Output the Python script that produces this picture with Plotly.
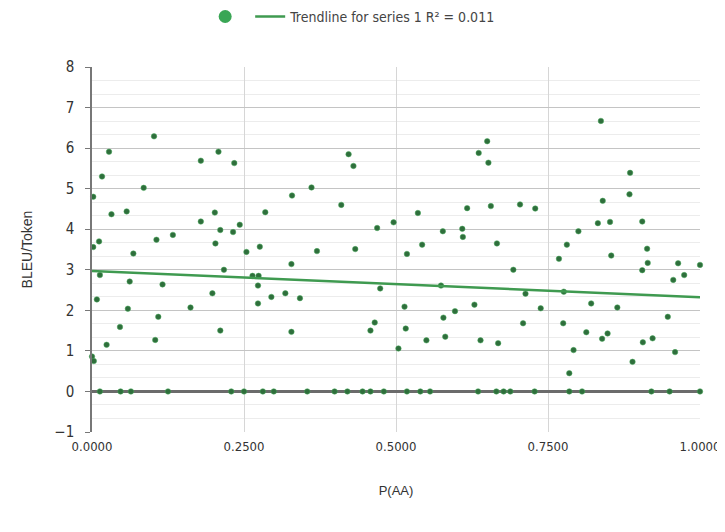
import plotly.graph_objects as go

p_aa = [0.102, 0.028, 0.208, 0.179, 0.234, 0.0165, 0.002, 0.085, 0.032, 0.057,
        0.179, 0.202, 0.211, 0.232, 0.243, 0.002, 0.0116, 0.106, 0.133, 0.203,
        0.068, 0.217, 0.013, 0.062, 0.116, 0.198, 0.008, 0.059, 0.162, 0.109,
        0.046, 0.211, 0.104, 0.024, 0.0, 0.003,
        0.422, 0.430, 0.361, 0.329, 0.410, 0.285, 0.469, 0.254, 0.276, 0.370,
        0.433, 0.328, 0.264, 0.274, 0.273, 0.474, 0.295, 0.318, 0.342, 0.273,
        0.328, 0.458, 0.465,
        0.650, 0.636, 0.652, 0.617, 0.656, 0.704, 0.729, 0.536, 0.496, 0.577,
        0.609, 0.610, 0.543, 0.518, 0.666, 0.693, 0.574, 0.713, 0.514, 0.629,
        0.597, 0.578, 0.738, 0.516, 0.709, 0.581, 0.550, 0.639, 0.668, 0.504,
        0.837, 0.885, 0.884, 0.840, 0.832, 0.852, 0.905, 0.800, 0.781, 0.913,
        0.768, 0.854, 0.914, 0.964, 1.0, 0.905, 0.974, 0.956, 0.776, 0.821,
        0.864, 0.775, 0.947, 0.813, 0.848, 0.839, 0.906, 0.922, 0.792, 0.959,
        0.889, 0.785]
bleu_token = [6.29, 5.91, 5.91, 5.69, 5.63, 5.30, 4.80, 5.02, 4.37, 4.44,
              4.19, 4.41, 3.98, 3.93, 4.11, 3.56, 3.70, 3.74, 3.86, 3.65,
              3.40, 3.00, 2.87, 2.71, 2.64, 2.42, 2.27, 2.04, 2.07, 1.84,
              1.59, 1.50, 1.27, 1.15, 0.86, 0.75,
              5.85, 5.56, 5.03, 4.83, 4.60, 4.42, 4.03, 3.44, 3.57, 3.46,
              3.51, 3.14, 2.85, 2.85, 2.61, 2.54, 2.33, 2.42, 2.30, 2.17,
              1.47, 1.50, 1.70,
              6.17, 5.88, 5.64, 4.52, 4.57, 4.61, 4.51, 4.40, 4.17, 3.95,
              4.01, 3.81, 3.62, 3.39, 3.65, 3.00, 2.61, 2.41, 2.09, 2.14,
              1.98, 1.82, 2.05, 1.55, 1.68, 1.35, 1.26, 1.26, 1.19, 1.06,
              6.67, 5.39, 4.86, 4.70, 4.15, 4.18, 4.19, 3.95, 3.62, 3.52,
              3.27, 3.35, 3.17, 3.16, 3.12, 2.99, 2.87, 2.75, 2.46, 2.17,
              2.07, 1.68, 1.84, 1.46, 1.43, 1.30, 1.21, 1.31, 1.02, 0.97,
              0.73, 0.45]
zero_p_aa = [0.013, 0.047, 0.064, 0.125, 0.229, 0.250, 0.281, 0.299, 0.354,
             0.399, 0.420, 0.445, 0.458, 0.480, 0.518, 0.540, 0.556, 0.635,
             0.665, 0.677, 0.688, 0.728, 0.785, 0.806, 0.920, 0.950, 1.0]
zero_bleu = [0.0] * len(zero_p_aa)

trend_x = [0.0, 1.0]
trend_y = [2.97, 2.32]

x_tickvals = [0, 0.25, 0.5, 0.75, 1.0]
x_ticktext = ["0.0000", "0.2500", "0.5000", "0.7500", "1.0000"]
y_tickvals = [-1, 0, 1, 2, 3, 4, 5, 6, 7, 8]

narrow = "DejaVu Sans Condensed, Liberation Sans Narrow, Liberation Sans, sans-serif"
regular = "Liberation Sans, Arial, sans-serif"
dot_color = "#2f6e3c"

fig = go.Figure()
fig.add_trace(go.Scatter(
    x=p_aa + zero_p_aa, y=bleu_token + zero_bleu, mode="markers",
    marker=dict(color=dot_color, size=5.5, line=dict(width=1, color="rgba(70,170,90,0.5)")),
    showlegend=False, cliponaxis=False))
fig.add_trace(go.Scatter(
    x=[None], y=[None], mode="markers", name="",
    marker=dict(color="#3aa655", size=13), showlegend=True))
fig.add_trace(go.Scatter(
    x=trend_x, y=trend_y, mode="lines", name="Trendline for series 1 R² = 0.011",
    line=dict(color="#3f9a50", width=2.5), showlegend=True))

fig.update_layout(
    width=717, height=524,
    margin=dict(l=84, r=25, t=59, b=100, autoexpand=False),
    paper_bgcolor="white", plot_bgcolor="white",
    font=dict(family=regular, size=13, color="#333333"),
    showlegend=True,
    legend=dict(orientation="h", x=0.275, xanchor="left", xref="container",
                y=0.983, yanchor="middle", yref="container",
                font=dict(family=narrow, size=14, color="#444444"),
                itemwidth=30, tracegroupgap=0),
    xaxis=dict(range=[0, 1], tickvals=x_tickvals, ticktext=x_ticktext,
               showgrid=True, gridcolor="#d6d6d6", gridwidth=1,
               zeroline=False, showline=False, ticks="",
               ticklabelstandoff=5,
               tickfont=dict(family=narrow, size=13, color="#333333"),
               title=dict(text="P(AA)", font=dict(family=regular, size=13, color="#333333"),
                          standoff=32)),
    yaxis=dict(range=[-1, 8], tickvals=y_tickvals,
               showgrid=True, gridcolor="#c4c4c4", gridwidth=1,
               minor=dict(dtick=1/3, showgrid=True, gridcolor="#ececec", gridwidth=1),
               zeroline=True, zerolinecolor="#6b6b6b", zerolinewidth=2.5,
               showline=True, linecolor="#777777", linewidth=1.5,
               ticks="outside", ticklen=5, tickcolor="#777777",
               ticklabelstandoff=8,
               tickfont=dict(family=narrow, size=15, color="#333333"),
               title=dict(text="BLEU/Token", font=dict(family=regular, size=14, color="#333333"),
                          standoff=18)),
)

fig.write_html("out.html")
